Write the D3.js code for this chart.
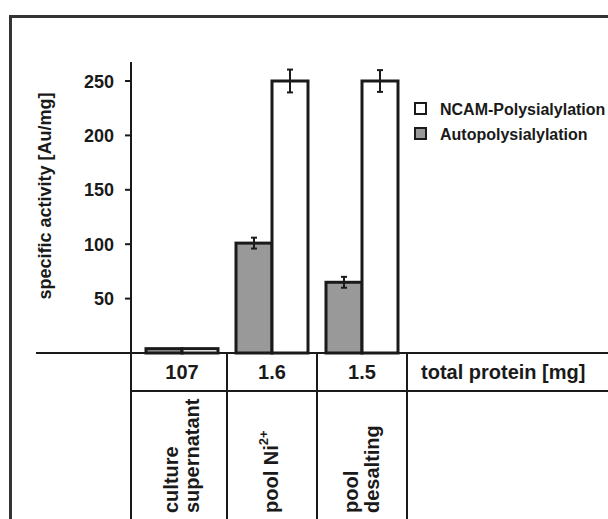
<!DOCTYPE html>
<html>
<head>
<meta charset="utf-8">
<script src="https://cdn.jsdelivr.net/npm/d3@7"></script>
<style>
    body { margin: 0; background: #fff; }
    svg text { font-family: "Liberation Sans", Arial, sans-serif; font-weight: bold; fill: #1a1a1a; }
</style>
</head>
<body>
<div id="chart"></div>
<script>
// data
var categories = ["culture supernatant", "pool Ni", "pool desalting"];
var categoryLines = [["culture", "supernatant"], ["pool Ni"], ["pool", "desalting"]];
var autoValues = [4, 101, 65];
var autoErrors = [0, 5, 5];
var ncamValues = [4, 250, 250];
var ncamErrors = [0, 10.5, 10];
var totalProtein = ["107", "1.6", "1.5"];
var yTicks = [50, 100, 150, 200, 250];
var seriesNames = ["NCAM-Polysialylation", "Autopolysialylation"];
var seriesColors = ["#ffffff", "#999999"];

var width = 608, height = 519;
var ink = "#1a1a1a";
var baseY = 353, axisX = 131, rowY = 391;

var svg = d3.select("#chart").append("svg")
    .attr("width", width)
    .attr("height", height);

// outer frame
svg.append("path")
    .attr("d", "M10.5," + height + "V16.5H" + width)
    .attr("fill", "none")
    .attr("stroke", "#333")
    .attr("stroke-width", 3);

var y = d3.scaleLinear().domain([0, 250]).range([baseY, 81]);
var x = d3.scaleBand().domain(categories).range([137, 407]);
var barW = 36;

// y axis
svg.append("line")
    .attr("x1", axisX).attr("x2", axisX)
    .attr("y1", 62).attr("y2", height)
    .attr("stroke", ink).attr("stroke-width", 2);

svg.selectAll("line.tick")
    .data(yTicks)
    .enter()
    .append("line")
    .attr("class", "tick")
    .attr("x1", 125).attr("x2", axisX)
    .attr("y1", function(d) { return y(d); })
    .attr("y2", function(d) { return y(d); })
    .attr("stroke", ink).attr("stroke-width", 2);

svg.selectAll("text.ticklabel")
    .data(yTicks)
    .enter()
    .append("text")
    .attr("class", "ticklabel")
    .attr("x", 114)
    .attr("y", function(d) { return y(d) + 6.5; })
    .attr("text-anchor", "end")
    .style("font-size", "18px")
    .text(function(d) { return d; });

svg.append("text")
    .attr("transform", "translate(51,196) rotate(-90)")
    .attr("text-anchor", "middle")
    .style("font-size", "18px")
    .text("specific activity [Au/mg]");

// bars
var bars = [];
for (var i = 0; i < categories.length; i++) {
    bars.push({cat: categories[i], v: autoValues[i], e: autoErrors[i], s: 1, off: -barW});
    bars.push({cat: categories[i], v: ncamValues[i], e: ncamErrors[i], s: 0, off: 0});
}
var cx = function(d) { return x(d.cat) + x.bandwidth() / 2; };

svg.selectAll("rect.bar")
    .data(bars)
    .enter()
    .append("rect")
    .attr("class", "bar")
    .attr("x", function(d) { return cx(d) + d.off; })
    .attr("y", function(d) { return y(d.v); })
    .attr("width", barW)
    .attr("height", function(d) { return baseY - y(d.v); })
    .attr("fill", function(d) { return seriesColors[d.s]; })
    .attr("stroke", ink)
    .attr("stroke-width", 3);

var errs = bars.filter(function(d) { return d.e > 0; });
var eg = svg.selectAll("g.err")
    .data(errs)
    .enter()
    .append("g")
    .attr("class", "err")
    .attr("stroke", ink)
    .attr("stroke-width", 2);
eg.append("line")
    .attr("x1", function(d) { return cx(d) + d.off + barW / 2; })
    .attr("x2", function(d) { return cx(d) + d.off + barW / 2; })
    .attr("y1", function(d) { return y(d.v + d.e); })
    .attr("y2", function(d) { return y(d.v - d.e); });
[1, -1].forEach(function(sign) {
    eg.append("line")
        .attr("x1", function(d) { return cx(d) + d.off + barW / 2 - 3; })
        .attr("x2", function(d) { return cx(d) + d.off + barW / 2 + 3; })
        .attr("y1", function(d) { return y(d.v + sign * d.e); })
        .attr("y2", function(d) { return y(d.v + sign * d.e); });
});

// baseline
svg.append("line")
    .attr("x1", 36).attr("x2", width)
    .attr("y1", baseY).attr("y2", baseY)
    .attr("stroke", ink).attr("stroke-width", 2);

// table below
svg.append("line")
    .attr("x1", axisX).attr("x2", width)
    .attr("y1", rowY).attr("y2", rowY)
    .attr("stroke", ink).attr("stroke-width", 2);

svg.selectAll("line.col")
    .data(categories)
    .enter()
    .append("line")
    .attr("class", "col")
    .attr("x1", function(d) { return x(d) + x.step(); })
    .attr("x2", function(d) { return x(d) + x.step(); })
    .attr("y1", baseY).attr("y2", height)
    .attr("stroke", ink).attr("stroke-width", 2);

svg.selectAll("text.protein")
    .data(categories)
    .enter()
    .append("text")
    .attr("class", "protein")
    .attr("x", function(d) { return x(d) + x.bandwidth() / 2; })
    .attr("y", 379)
    .attr("text-anchor", "middle")
    .style("font-size", "20px")
    .text(function(d, i) { return totalProtein[i]; });

svg.append("text")
    .attr("x", 421).attr("y", 379)
    .style("font-size", "20px")
    .text("total protein [mg]");

categories.forEach(function(c, i) {
    var lines = categoryLines[i];
    var n = lines.length;
    lines.forEach(function(line, j) {
        var bx = x(c) + x.bandwidth() / 2 + 6 + (j - (n - 1) / 2) * 21;
        var t = svg.append("text")
            .attr("transform", "translate(" + bx + ",513) rotate(-90)")
            .style("font-size", "20px")
            .text(line);
        if (c == "pool Ni") {
            t.append("tspan")
                .attr("baseline-shift", "10px")
                .style("font-size", "13px")
                .text("2+");
        }
    });
});

// legend
var legend = svg.selectAll("g.legend")
    .data(seriesNames)
    .enter()
    .append("g")
    .attr("class", "legend")
    .attr("transform", function(d, i) { return "translate(415," + (103 + i * 25) + ")"; });
legend.append("rect")
    .attr("width", 11).attr("height", 11)
    .attr("fill", function(d, i) { return seriesColors[i]; })
    .attr("stroke", ink).attr("stroke-width", 2);
legend.append("text")
    .attr("x", 25).attr("y", 12)
    .style("font-size", "16px")
    .text(function(d) { return d; });
</script>
</body>
</html>
